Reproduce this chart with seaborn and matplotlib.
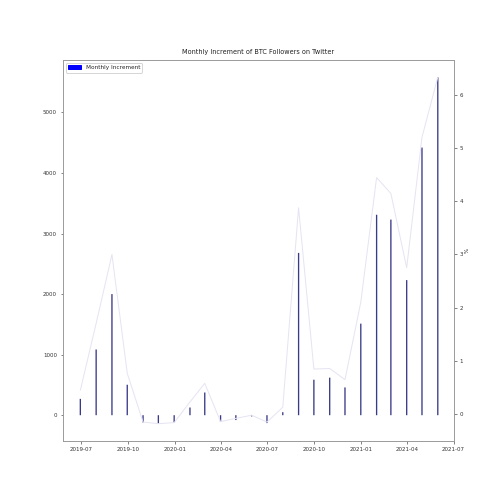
import matplotlib
matplotlib.use("Agg")
import matplotlib.pyplot as plt
import matplotlib.dates as mdates
from matplotlib.patches import Patch
import pandas as pd
import seaborn as sns

# month-end dates of the series
months = pd.date_range("2019-06-30", "2021-05-31", freq="ME")

# monthly increment of followers (left axis)
increment = [270, 1085, 2000, 503, -120, -140, -120, 127, 375, -110, -80, -20,
             -130, 50, 2680, 586, 620, 459, 1512, 3310, 3230, 2231, 4420, 5580]

# monthly increment in percent (right axis)
pct_change = [0.44, 1.7, 3.0, 0.76, -0.16, -0.19, -0.17, 0.22, 0.57, -0.15, -0.09, -0.03,
              -0.16, 0.12, 3.88, 0.84, 0.85, 0.64, 2.1, 4.45, 4.15, 2.75, 5.21, 6.34]

df = pd.DataFrame({"date": months, "increment": increment, "pct": pct_change})

sns.set_style("ticks")
plt.rcParams["font.family"] = ["DejaVu Sans"]

fig, ax = plt.subplots(figsize=(7, 7), dpi=72)
fig.subplots_adjust(left=0.125, right=0.9, top=0.881, bottom=0.125)

# bars of monthly increment
bars = ax.bar(df["date"], df["increment"], width=2.6, color="#3a3a8a", linewidth=0)
for b in bars:
    b.set_snap(False)
ax.set_title("Monthly Increment of BTC Followers on Twitter", fontsize=6.5, color="#222222")

# percentage on second axis
ax2 = ax.twinx()
sns.lineplot(ax=ax2, x="date", y="pct", data=df, color="#e6e4f2", linewidth=1)
ax2.set_ylabel("%", fontsize=5.5, labelpad=2)
ax2.set_xlabel("")
ax.set_xlabel("")

ax.set_xlim(pd.Timestamp("2019-05-27"), pd.Timestamp("2021-07-01"))
ax.xaxis.set_major_locator(mdates.MonthLocator(bymonth=[1, 4, 7, 10]))
ax.xaxis.set_major_formatter(mdates.DateFormatter("%Y-%m"))

for a in (ax, ax2):
    a.tick_params(labelsize=5.5, colors="#333333", length=2.5, width=0.6)
    for s in a.spines.values():
        s.set_color("#999999")
        s.set_linewidth(0.8)
    a.spines["top"].set_visible(True)
    a.spines["right"].set_visible(True)

ax.legend(handles=[Patch(color="blue", label="Monthly Increment")], loc="upper left",
          fontsize=5.8, frameon=True, handlelength=2.2)

fig.savefig("out.png", dpi=72)
